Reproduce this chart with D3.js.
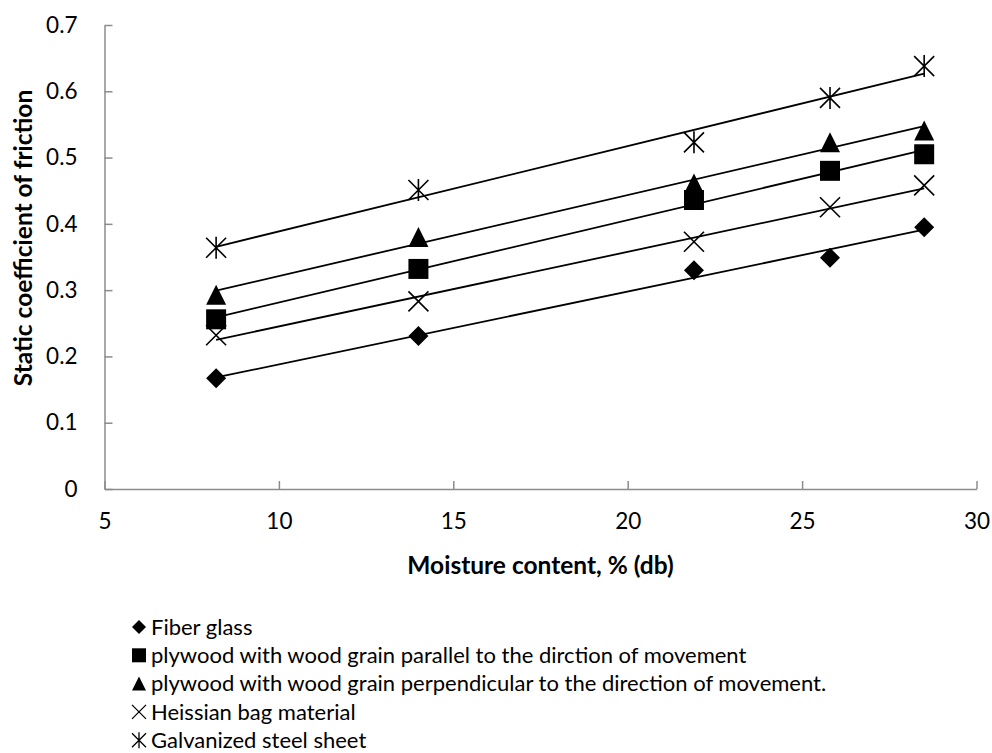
<!DOCTYPE html>
<html>
<head>
<meta charset="utf-8">
<script src="https://cdn.jsdelivr.net/npm/d3@7"></script>
<style>
  body { margin: 0; background: #fff; }
  svg { display: block; font-family: Lato, 'Open Sans', sans-serif; }
</style>
</head>
<body>
<div class="chart"></div>
<script>
// values
const moisture = [8.2, 14, 21.9, 25.8, 28.5];
const fiberGlass = [0.167, 0.231, 0.330, 0.349, 0.395];
const plyParallel = [0.256, 0.332, 0.436, 0.480, 0.505];
const plyPerpendicular = [0.293, 0.380, 0.461, 0.523, 0.541];
const heissian = [0.232, 0.283, 0.373, 0.425, 0.458];
const galvanized = [0.364, 0.451, 0.523, 0.590, 0.638];

const seriesNames = ['Fiber glass',
  'plywood with wood grain parallel to the dirction of movement',
  'plywood with wood grain perpendicular to the direction of movement.',
  'Heissian bag material',
  'Galvanized steel sheet'];
const seriesMarkers = ['diamond', 'square', 'triangle', 'times', 'star'];
const seriesValues = [fiberGlass, plyParallel, plyPerpendicular, heissian, galvanized];

const xTicks = [5, 10, 15, 20, 25, 30];
const yTicks = [0, 0.1, 0.2, 0.3, 0.4, 0.5, 0.6, 0.7];

const series = seriesNames.map((name, i) => ({
  name: name,
  marker: seriesMarkers[i],
  points: moisture.map((x, j) => ({x: x, y: seriesValues[i][j]}))
}));

const width = 992, height = 753;
const svg = d3.select('.chart')
  .append('svg')
  .attr('width', width)
  .attr('height', height);

const xScale = d3.scaleLinear().domain([5, 30]).range([104.5, 976.5]);
const yScale = d3.scaleLinear().domain([0, 0.7]).range([489, 25]);

// marker shapes, s = full size in px
function markerPath(type, s) {
  const h = s / 2;
  const p = d3.path();
  if (type === 'diamond') {
    p.moveTo(0, -h); p.lineTo(h, 0); p.lineTo(0, h); p.lineTo(-h, 0); p.closePath();
  } else if (type === 'square') {
    p.rect(-h, -h, s, s);
  } else if (type === 'triangle') {
    p.moveTo(0, -h); p.lineTo(h, h); p.lineTo(-h, h); p.closePath();
  } else if (type === 'times') {
    p.moveTo(-h, -h); p.lineTo(h, h); p.moveTo(h, -h); p.lineTo(-h, h);
  } else {
    p.moveTo(-h, -h); p.lineTo(h, h); p.moveTo(h, -h); p.lineTo(-h, h);
    p.moveTo(0, -h - 1); p.lineTo(0, h + 1);
  }
  return p.toString();
}
const filled = t => t === 'diamond' || t === 'square' || t === 'triangle';

// axes
const xAxis = d3.axisBottom(xScale).tickValues(xTicks).tickSize(-8).tickSizeOuter(0).tickPadding(24);
const yAxis = d3.axisLeft(yScale).tickValues(yTicks).tickSize(-8).tickSizeOuter(0).tickPadding(27)
  .tickFormat(d => d === 0 ? '0' : d3.format('.1f')(d));

svg.append('g')
  .attr('class', 'axis x-axis')
  .attr('transform', `translate(0, ${yScale(0)})`)
  .call(xAxis);
svg.append('g')
  .attr('class', 'axis y-axis')
  .attr('transform', `translate(${xScale(5)}, 0)`)
  .call(yAxis);

svg.selectAll('.axis path, .axis line')
  .attr('stroke', '#8c8c8c')
  .attr('stroke-width', 1.5);
svg.selectAll('.axis text')
  .attr('font-family', 'Lato, sans-serif')
  .attr('font-size', 22.5)
  .attr('fill', '#000');

// trend lines (least squares on each series)
const lineGen = d3.line().x(d => xScale(d.x)).y(d => yScale(d.y));
series.forEach(s => {
  const mx = d3.mean(s.points, d => d.x);
  const my = d3.mean(s.points, d => d.y);
  const slope = d3.sum(s.points, d => (d.x - mx) * (d.y - my)) / d3.sum(s.points, d => (d.x - mx) ** 2);
  const x0 = d3.min(moisture), x1 = d3.max(moisture);
  const ends = [{x: x0, y: my + slope * (x0 - mx)}, {x: x1, y: my + slope * (x1 - mx)}];
  svg.append('path')
    .attr('d', lineGen(ends))
    .attr('fill', 'none')
    .attr('stroke', '#000')
    .attr('stroke-width', 1.8);
});

// markers
series.forEach(s => {
  svg.append('g')
    .selectAll('path')
    .data(s.points)
    .enter()
    .append('path')
    .attr('transform', d => `translate(${xScale(d.x)},${yScale(d.y)})`)
    .attr('d', markerPath(s.marker, 20))
    .attr('fill', filled(s.marker) ? '#000' : 'none')
    .attr('stroke', '#000')
    .attr('stroke-width', filled(s.marker) ? 0 : 1.6);
});

// axis titles
svg.append('text')
  .attr('x', 540.5)
  .attr('y', 574)
  .attr('text-anchor', 'middle')
  .attr('font-weight', 'bold')
  .attr('font-size', 24.5)
  .text('Moisture content, % (db)');

svg.append('text')
  .attr('transform', 'translate(32, 238) rotate(-90)')
  .attr('text-anchor', 'middle')
  .attr('font-weight', 'bold')
  .attr('font-size', 24.5)
  .text('Static coefficient of friction');

// legend
const legend = svg.append('g').attr('class', 'legend');
series.forEach((s, i) => {
  const y = 627 + 28.3 * i;
  legend.append('path')
    .attr('transform', `translate(139,${y})`)
    .attr('d', markerPath(s.marker, 14))
    .attr('fill', filled(s.marker) ? '#000' : 'none')
    .attr('stroke', '#000')
    .attr('stroke-width', filled(s.marker) ? 0 : 1.3);
  legend.append('text')
    .attr('x', 151)
    .attr('y', y)
    .attr('dy', '0.35em')
    .attr('font-size', 22)
    .text(s.name);
});
</script>
</body>
</html>
